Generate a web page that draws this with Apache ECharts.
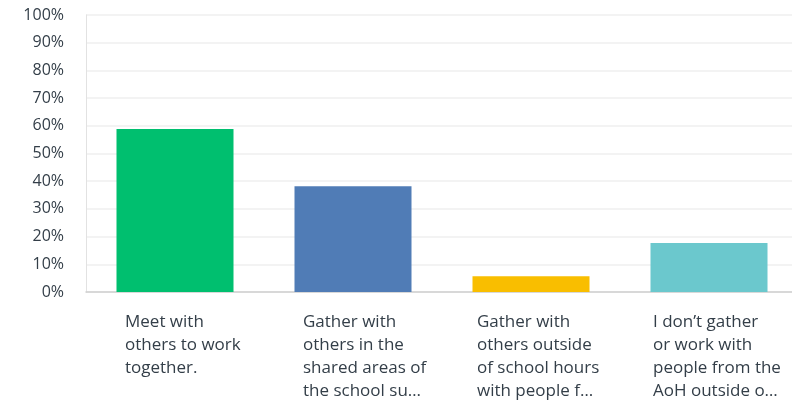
<!DOCTYPE html>
<html>
<head>
<meta charset="utf-8">
<script src="https://cdn.jsdelivr.net/npm/echarts@6/dist/echarts.min.js"></script>
<style>html,body{margin:0;padding:0;background:#fff;}#c{width:792px;height:404px;}</style>
</head>
<body>
<div id="c"></div>
<script>
const categories = [
  "Meet with\nothers to work\ntogether.",
  "Gather with\nothers in the\nshared areas of\nthe school su…",
  "Gather with\nothers outside\nof school hours\nwith people f…",
  "I don’t gather\nor work with\npeople from the\nAoH outside o…"
];
const values = [58.8, 38.2, 5.7, 17.7];
const colors = ["#00BF6F", "#507CB6", "#F9BE00", "#6BC8CD"];
const yTicks = [0, 10, 20, 30, 40, 50, 60, 70, 80, 90, 100];

const FONT = '"Open Sans", sans-serif';
const boxW = [100, 100, 108, 112];
const rich = {};
boxW.forEach((w, i) => {
  rich['a' + i] = {width: w, align: 'left', fontSize: 17, lineHeight: 23, color: '#333e48', fontFamily: FONT};
});
const chart = echarts.init(document.getElementById('c'), null, {renderer: 'canvas'});
chart.setOption({
  animation: false,
  grid: {left: 86, width: 712, top: 15, height: 277, containLabel: false, outerBoundsMode: 'none'},
  xAxis: {
    type: 'category',
    data: categories,
    axisTick: {show: false},
    axisLine: {show: true, lineStyle: {color: '#d0d0d0', width: 1.5}},
    axisLabel: {
      interval: 0,
      margin: 19,
      formatter: function (v, idx) {
        const k = 'a' + idx;
        return v.split('\n').map(s => '{' + k + '|' + s + '}').join('\n');
      },
      rich: rich
    }
  },
  yAxis: {
    type: 'value',
    min: 0, max: 100, interval: 10,
    axisLine: {show: true, lineStyle: {color: '#e2e2e2'}},
    axisTick: {show: false},
    splitLine: {lineStyle: {color: '#efefef', width: 1.5}},
    axisLabel: {
      margin: 22,
      fontSize: 16,
      color: '#333e48',
      fontFamily: FONT,
      formatter: function (v) { return yTicks.indexOf(v) >= 0 ? v + '%' : ''; }
    }
  },
  series: [{
    type: 'bar',
    barWidth: 117,
    data: values.map((v, i) => ({value: v, itemStyle: {color: colors[i]}}))
  }]
});
</script>
</body>
</html>
